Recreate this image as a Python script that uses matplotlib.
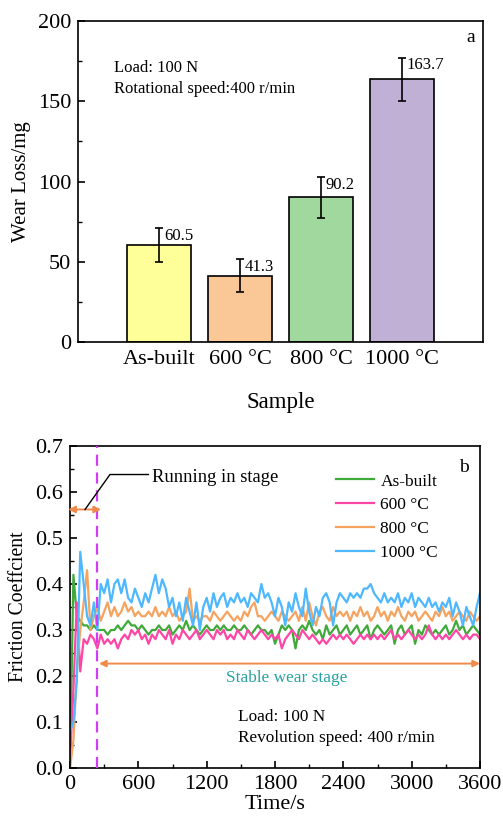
import numpy as np
import matplotlib
matplotlib.use("Agg")
import matplotlib.pyplot as plt
from matplotlib.ticker import MultipleLocator

plt.rcParams['font.family'] = ['Liberation Serif', 'DejaVu Serif']
plt.rcParams['axes.linewidth'] = 1.2

# ---------------- (a) wear loss ----------------
samples = ["As-built", "600 °C", "800 °C", "1000 °C"]
wear_loss = [60.5, 41.3, 90.2, 163.7]
wear_err = [10.7, 10.3, 12.7, 13.5]
bar_colors = ["#FFFF99", "#FAC896", "#A0D89E", "#C1B0D6"]

# ---------------- (b) friction coefficient ----------------
time_s = np.arange(0, 3601, 30)

cof_asbuilt = [
    0.00, 0.42, 0.33, 0.32, 0.31, 0.31, 0.30, 0.31, 0.30, 0.30,
    0.30, 0.29, 0.30, 0.30, 0.31, 0.30, 0.31, 0.32, 0.31, 0.31,
    0.30, 0.31, 0.30, 0.29, 0.30, 0.30, 0.31, 0.30, 0.30, 0.31,
    0.29, 0.30, 0.31, 0.30, 0.32, 0.30, 0.31, 0.30, 0.29, 0.30,
    0.31, 0.30, 0.30, 0.31, 0.30, 0.31, 0.30, 0.30, 0.31, 0.30,
    0.30, 0.31, 0.30, 0.29, 0.30, 0.31, 0.30, 0.30, 0.29, 0.30,
    0.27, 0.29, 0.31, 0.30, 0.31, 0.30, 0.26, 0.30, 0.31, 0.30,
    0.32, 0.30, 0.29, 0.30, 0.28, 0.31, 0.29, 0.30, 0.31, 0.29,
    0.30, 0.31, 0.29, 0.30, 0.31, 0.29, 0.30, 0.31, 0.28, 0.30,
    0.31, 0.30, 0.29, 0.30, 0.31, 0.27, 0.30, 0.31, 0.29, 0.30,
    0.31, 0.27, 0.30, 0.29, 0.31, 0.30, 0.29, 0.30, 0.29, 0.30,
    0.31, 0.29, 0.30, 0.32, 0.30, 0.31, 0.29, 0.30, 0.31, 0.30,
    0.29,
]
cof_600 = [
    0.02, 0.17, 0.36, 0.21, 0.28, 0.27, 0.29, 0.28, 0.26, 0.29,
    0.27, 0.28, 0.27, 0.28, 0.26, 0.28, 0.29, 0.28, 0.30, 0.29,
    0.30, 0.28, 0.29, 0.27, 0.29, 0.28, 0.30, 0.29, 0.28, 0.30,
    0.27, 0.29, 0.28, 0.30, 0.29, 0.28, 0.29, 0.30, 0.28, 0.29,
    0.30, 0.29, 0.28, 0.30, 0.29, 0.30, 0.28, 0.29, 0.28, 0.30,
    0.29, 0.28, 0.30, 0.29, 0.28, 0.29, 0.30, 0.29, 0.28, 0.29,
    0.28, 0.29, 0.26, 0.28, 0.29, 0.30, 0.29, 0.28, 0.30, 0.29,
    0.28, 0.29, 0.28, 0.27, 0.28, 0.27, 0.28, 0.29, 0.28, 0.29,
    0.28, 0.29, 0.28, 0.27, 0.28, 0.29, 0.28, 0.29, 0.28, 0.29,
    0.28, 0.29, 0.28, 0.29, 0.30, 0.28, 0.29, 0.28, 0.29, 0.30,
    0.29, 0.28, 0.29, 0.28, 0.29, 0.31, 0.29, 0.28, 0.29, 0.28,
    0.29, 0.28, 0.29, 0.30, 0.29, 0.28, 0.29, 0.28, 0.29, 0.29,
    0.28,
]
cof_800 = [
    0.00, 0.06, 0.21, 0.30, 0.36, 0.43, 0.30, 0.33, 0.35, 0.32,
    0.34, 0.36, 0.33, 0.35, 0.33, 0.34, 0.36, 0.34, 0.35, 0.33,
    0.34, 0.33, 0.33, 0.34, 0.33, 0.35, 0.33, 0.34, 0.33, 0.35,
    0.33, 0.34, 0.32, 0.33, 0.34, 0.39, 0.32, 0.33, 0.32, 0.33,
    0.33, 0.32, 0.34, 0.33, 0.32, 0.33, 0.34, 0.33, 0.32, 0.33,
    0.32, 0.34, 0.33, 0.35, 0.36, 0.33, 0.33, 0.32, 0.33, 0.34,
    0.33, 0.32, 0.34, 0.33, 0.32, 0.33, 0.34, 0.32, 0.35, 0.32,
    0.36, 0.33, 0.31, 0.34, 0.35, 0.33, 0.32, 0.35, 0.33, 0.34,
    0.33, 0.34, 0.32, 0.34, 0.33, 0.35, 0.33, 0.34, 0.32, 0.33,
    0.35, 0.33, 0.34, 0.32, 0.34, 0.33, 0.35, 0.33, 0.32, 0.34,
    0.33, 0.34, 0.32, 0.33, 0.34, 0.33, 0.32, 0.34, 0.33, 0.35,
    0.33, 0.34, 0.32, 0.33, 0.34, 0.33, 0.32, 0.34, 0.33, 0.32,
    0.33,
]
cof_1000 = [
    0.08, 0.10, 0.19, 0.47, 0.40, 0.33, 0.31, 0.36, 0.30, 0.40,
    0.38, 0.41, 0.36, 0.40, 0.41, 0.38, 0.41, 0.37, 0.36, 0.39,
    0.37, 0.35, 0.38, 0.36, 0.39, 0.42, 0.38, 0.41, 0.39, 0.35,
    0.37, 0.33, 0.36, 0.32, 0.37, 0.34, 0.31, 0.36, 0.30, 0.35,
    0.37, 0.34, 0.38, 0.35, 0.37, 0.38, 0.35, 0.37, 0.36, 0.38,
    0.36, 0.37, 0.35, 0.38, 0.37, 0.36, 0.40, 0.37, 0.38, 0.36,
    0.33, 0.37, 0.35, 0.31, 0.36, 0.34, 0.38, 0.35, 0.33, 0.39,
    0.34, 0.31, 0.35, 0.33, 0.37, 0.38, 0.36, 0.31, 0.36, 0.38,
    0.37, 0.36, 0.38, 0.37, 0.38, 0.37, 0.39, 0.39, 0.40, 0.38,
    0.37, 0.36, 0.38, 0.36, 0.37, 0.36, 0.38, 0.35, 0.37, 0.36,
    0.38, 0.35, 0.37, 0.36, 0.35, 0.37, 0.35, 0.36, 0.34, 0.36,
    0.35, 0.37, 0.33, 0.36, 0.34, 0.31, 0.35, 0.33, 0.31, 0.35,
    0.38,
]
series_labels = ["As-built", "600 °C", "800 °C", "1000 °C"]
line_colors = ["#3FAA3A", "#FF45A5", "#F5A35F", "#4DB8FF"]

running_in_end = 240
orange_arrow = "#F08A4B"

fig = plt.figure(figsize=(5.03, 8.19), dpi=100)

# ---- panel a ----
ax1 = fig.add_axes([78 / 503, 1 - 342 / 819, 405 / 503, 321 / 819])
xpos = np.arange(1, len(samples) + 1)
ax1.bar(xpos, wear_loss, width=0.8, color=bar_colors, edgecolor="black",
        linewidth=1.2, zorder=2)
ax1.errorbar(xpos, wear_loss, yerr=wear_err, fmt="none", ecolor="black",
             elinewidth=1.2, capsize=3, capthick=1.2, zorder=3)
for x, v, e in zip(xpos, wear_loss, wear_err):
    ax1.text(x + 0.06, v + e - 7.4, f"{v:.1f}", fontsize=12,
             ha="left", va="baseline")
ax1.set_xlim(0, 5)
ax1.set_ylim(0, 200)
ax1.set_xticks(xpos)
ax1.set_xticklabels(samples)
ax1.yaxis.set_major_locator(MultipleLocator(50))
ax1.yaxis.set_minor_locator(MultipleLocator(25))
ax1.tick_params(axis="both", which="major", direction="in", length=5,
                width=1.2, labelsize=16, pad=5)
ax1.tick_params(axis="x", which="major", pad=6)
ax1.tick_params(axis="both", which="minor", direction="in", length=3,
                width=1.0)
ax1.set_xlabel("Sample", fontsize=16.5, labelpad=16)
ax1.set_ylabel("Wear Loss/mg", fontsize=15, labelpad=5)
ax1.text(0.448, 168, "Load: 100 N", fontsize=12, va="baseline")
ax1.text(0.448, 155, "Rotational speed:400 r/min", fontsize=12,
         va="baseline")
ax1.text(4.80, 187, "a", fontsize=14, va="baseline")

# ---- panel b ----
ax2 = fig.add_axes([70 / 503, 1 - 768 / 819, 410 / 503, 322 / 819])
for vals, lab, col in zip([cof_asbuilt, cof_600, cof_800, cof_1000],
                          series_labels, line_colors):
    ax2.plot(time_s, vals, color=col, lw=1.6, label=lab, zorder=2)

ax2.axvline(running_in_end, color="#D23CF5", lw=1.6,
            linestyle=(0, (5, 3)), zorder=3)

# running-in stage marker
ax2.annotate("", xy=(-15, 0.562), xytext=(272, 0.562),
             arrowprops=dict(arrowstyle="<|-|>", color=orange_arrow, lw=1.4,
                             shrinkA=0, shrinkB=0, mutation_scale=10),
             annotation_clip=False)
ax2.plot([132, 351, 688], [0.562, 0.638, 0.638], color="black", lw=1.0,
         zorder=4)
ax2.text(717, 0.622, "Running in stage", fontsize=13.4, va="baseline")

# stable wear stage marker
ax2.annotate("", xy=(255, 0.227), xytext=(3600, 0.227),
             arrowprops=dict(arrowstyle="<|-|>", color=orange_arrow, lw=1.4,
                             shrinkA=0, shrinkB=0, mutation_scale=10),
             annotation_clip=False)
ax2.text(1903, 0.186, "Stable wear stage", fontsize=12.4, ha="center",
         va="baseline", color="#27A2A0")

ax2.text(1478, 0.102, "Load: 100 N", fontsize=12.4, va="baseline")
ax2.text(1478, 0.057, "Revolution speed: 400 r/min", fontsize=12.4,
         va="baseline")
ax2.text(3418, 0.643, "b", fontsize=14, va="baseline")

ax2.set_xlim(0, 3600)
ax2.set_ylim(0, 0.7)
ax2.xaxis.set_major_locator(MultipleLocator(600))
ax2.xaxis.set_minor_locator(MultipleLocator(300))
ax2.yaxis.set_major_locator(MultipleLocator(0.1))
ax2.yaxis.set_minor_locator(MultipleLocator(0.05))
ax2.yaxis.set_major_formatter(plt.FormatStrFormatter("%.1f"))
ax2.tick_params(axis="both", which="major", direction="in", length=5,
                width=1.2, labelsize=16, pad=5)
ax2.tick_params(axis="both", which="minor", direction="in", length=3,
                width=1.0)
ax2.set_xlabel("Time/s", fontsize=16, labelpad=1)
ax2.set_ylabel("Friction Coeffcient", fontsize=14.2, labelpad=5)

ax2.legend(loc="upper left", bbox_to_anchor=(0.649, 0.915), frameon=False,
           fontsize=12.5, handlelength=2.2, handletextpad=0.35,
           labelspacing=0.45, borderpad=0, borderaxespad=0)

fig.savefig("out.png", dpi=100)
